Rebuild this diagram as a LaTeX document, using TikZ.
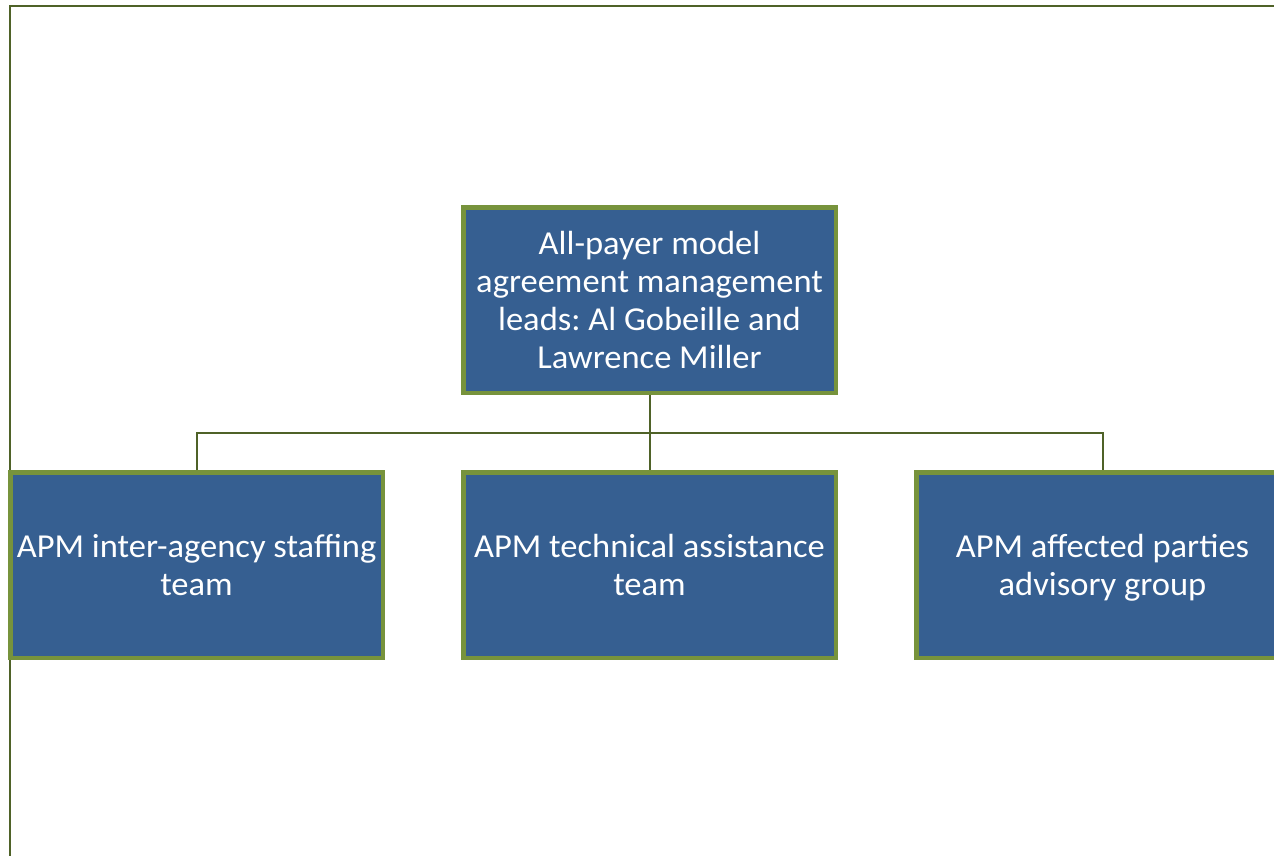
\documentclass[tikz,border=0pt]{standalone}
\usepackage{fontspec}
\setmainfont{Carlito}[FakeStretch=1.03]
\usetikzlibrary{positioning}
\definecolor{boxfill}{HTML}{365F91}
\definecolor{boxline}{HTML}{77933C}
\definecolor{darkolive}{HTML}{4F6228}
\newcommand{\lstrut}{\rule[-7pt]{0pt}{37pt}}
\frenchspacing

\begin{document}
\begin{tikzpicture}[x=1pt,y=-1pt,
    box/.style={draw=boxline,fill=boxfill,line width=4.5pt,minimum width=372.5pt,
                minimum height=185.5pt,align=center,text=white,inner sep=0pt,
                font=\fontsize{33.5}{37.7}\selectfont},
    link/.style={draw=darkolive,line width=2pt}]
    \useasboundingbox (0,0) rectangle (1274,856);
    \draw[link] (1280,6) -- (10,6) -- (10,860);

    \node[box]                    (lead)  at (649.5,300) {\lstrut All-payer model\\agreement management\\leads: Al Gobeille and\\\lstrut Lawrence Miller};
    \node[box]                    (tech)  at (649.5,565) {\lstrut APM technical assistance\\\lstrut team};
    \node[box, left=76pt of tech]  (staff)              {\lstrut APM inter-agency staffing\\\lstrut team};
    \node[box, right=76pt of tech] (party)              {\lstrut APM affected parties\\\lstrut advisory group};

    \coordinate[below=37.5pt of lead.south] (bus);
    \draw[link] (lead) -- (tech);
    \draw[link] (staff.north) |- (bus) -| (party.north);
\end{tikzpicture}
\end{document}
